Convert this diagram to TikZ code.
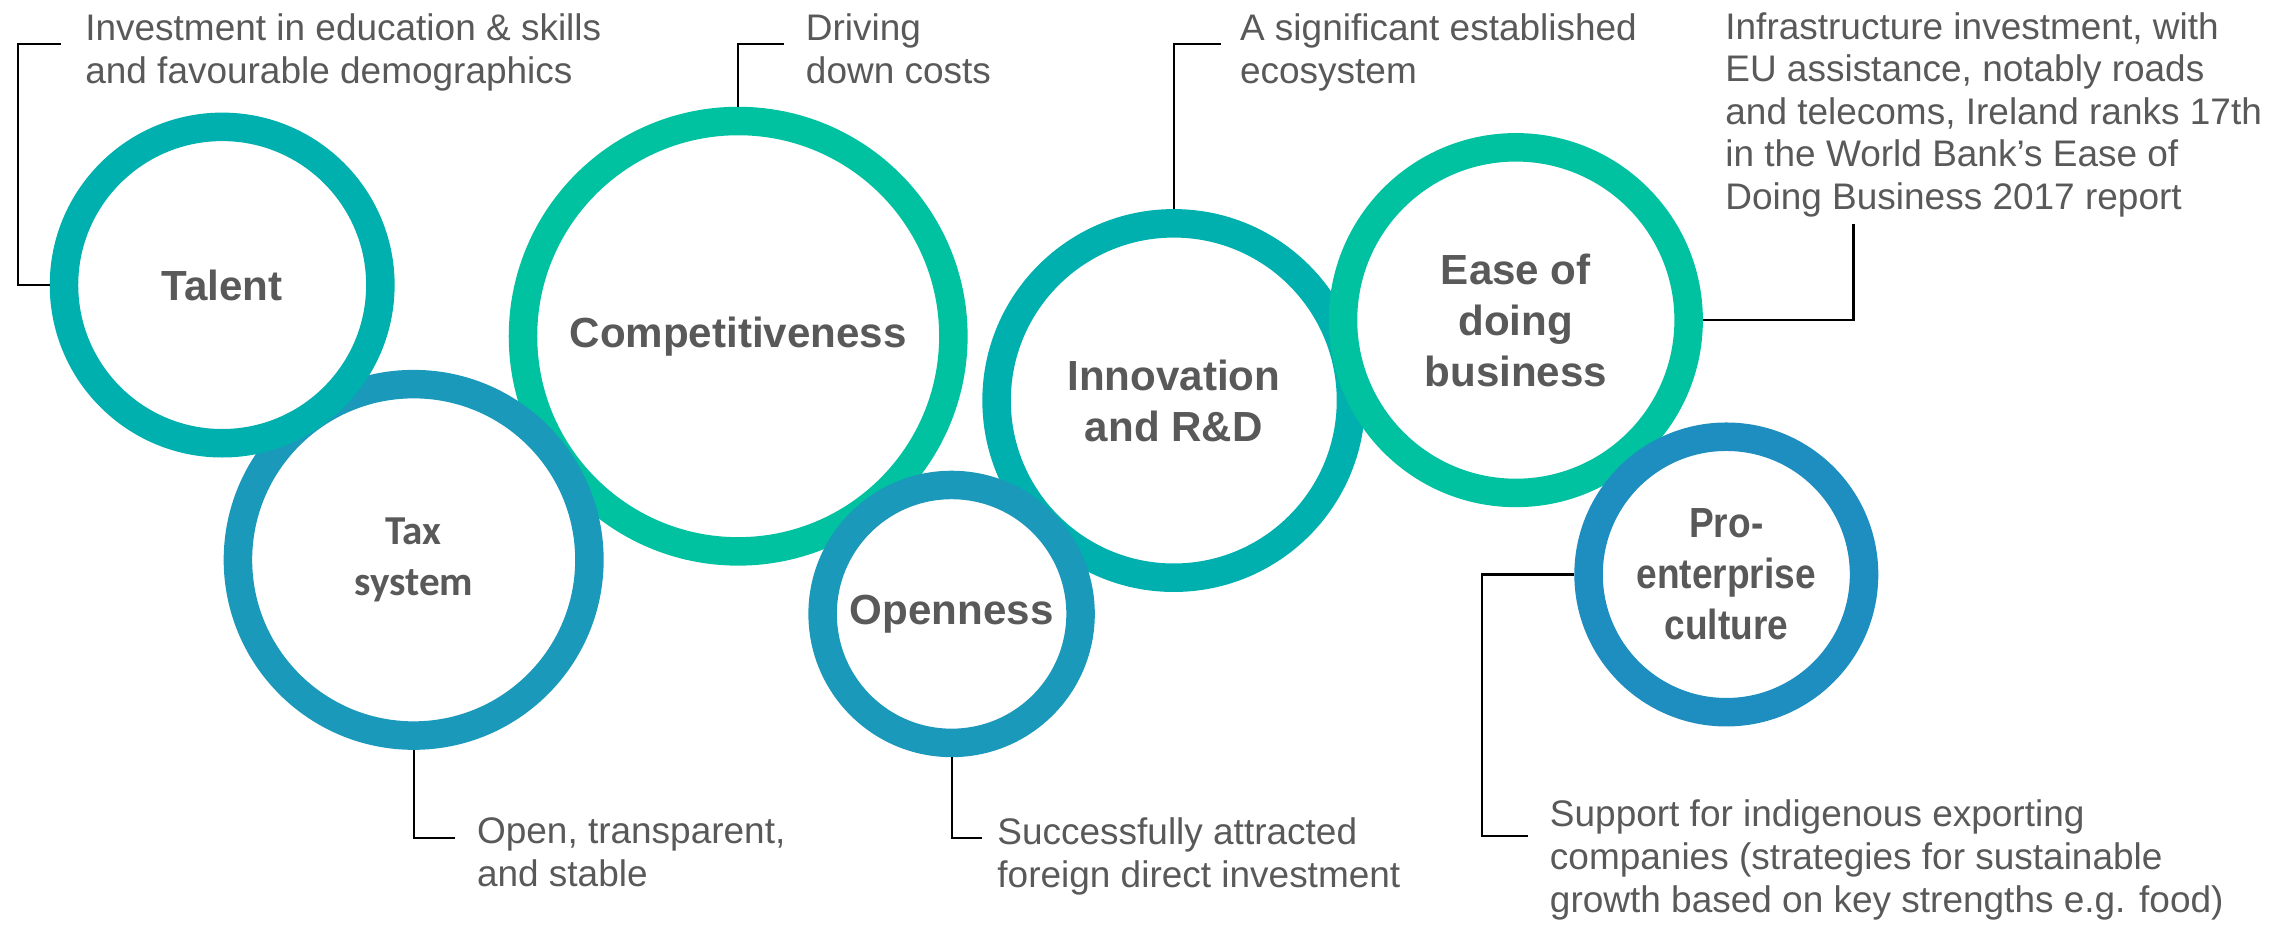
\documentclass[tikz,border=0pt]{standalone}
\usepackage{fontspec}
\setmainfont{Liberation Sans}
\newfontfamily\calibrifont{Carlito}
\newfontfamily\narrowfont[FakeStretch=0.88]{Liberation Sans}

\definecolor{ringteal}{RGB}{0,176,174}
\definecolor{ringgreen}{RGB}{0,194,160}
\definecolor{ringblue}{RGB}{26,153,186}
\definecolor{ringdeep}{RGB}{30,142,192}
\definecolor{textgray}{RGB}{89,89,89}

\begin{document}
\begin{tikzpicture}[
        x=0.02cm, y=-0.02cm,
        ring/.style={circle, draw, line width=0.39cm, fill=white, inner sep=0pt, align=center, text=textgray, font=\bfseries\fontsize{16.4}{19.9}\selectfont},
        note/.style={anchor=north west, inner sep=0pt, align=left, text=textgray, font=\fontsize{14.4}{16.6}\selectfont},
        lead/.style={draw=black, line width=0.8pt}
        ]

        \useasboundingbox (0,0) rectangle (1568,633);

        % Circles
        \node[ring, draw=ringgreen, minimum size=5.89cm] (competitiveness) at (505,230) {Competitiveness};
        \node[ring, draw=ringteal, minimum size=4.85cm] (innovation) at (803,274) {Innovation\\and R\&D};
        \node[ring, draw=ringgreen, minimum size=4.73cm] (ease) at (1037,219) {Ease of\\doing\\business};
        \node[ring, draw=ringblue, minimum size=4.81cm, font=\calibrifont\bfseries\fontsize{16}{19.9}\selectfont] (tax) at (283,383) {Tax\\system};
        \node[ring, draw=ringteal, minimum size=4.33cm] (talent) at (152,195) {Talent};
        \node[ring, draw=ringblue, minimum size=3.53cm] (openness) at (651,420) {Openness};
        \node[ring, draw=ringdeep, minimum size=3.77cm, font=\narrowfont\bfseries\fontsize{16.4}{19.9}\selectfont] (pro) at (1181,393) {Pro-\\enterprise\\culture};

        % Labels
        \node[note] (talentnote) at (58,9) {Investment in education \& skills\\and favourable demographics};
        \node[note] (costnote) at (551,9) {Driving\\down costs};
        \node[note] (ecosystemnote) at (848,9) {A significant established\\ecosystem};
        \node[note] (infranote) at (1180,8) {Infrastructure investment, with\\EU assistance, notably roads\\and telecoms, Ireland ranks 17th\\in the World Bank’s Ease of\\Doing Business 2017 report};
        \node[note] (taxnote) at (326,559) {Open, transparent,\\and stable};
        \node[note] (fdinote) at (682,559) {Successfully attracted\\foreign direct investment};
        \node[note] (exportnote) at (1060,547) {Support for indigenous exporting\\companies (strategies for sustainable\\growth based on key strengths e.g. food)};

        % Leaders
        \coordinate (talentend) at (42,30);
        \coordinate (costend) at (536,30);
        \coordinate (ecosystemend) at (835,30);
        \coordinate (infraend) at (1268,153);
        \coordinate (taxend) at (311,573);
        \coordinate (fdiend) at (672,573);
        \coordinate (exportend) at (1045,572);

        \draw[lead] (talent.west) -- ++(-22,0) |- (talentend);
        \draw[lead] (competitiveness.north) |- (costend);
        \draw[lead] (innovation.north) |- (ecosystemend);
        \draw[lead] (ease.east) -| (infraend);
        \draw[lead] (tax.south) |- (taxend);
        \draw[lead] (openness.south) |- (fdiend);
        \draw[lead] (pro.west) -- ++(-63,0) |- (exportend);
    \end{tikzpicture}
\end{document}
